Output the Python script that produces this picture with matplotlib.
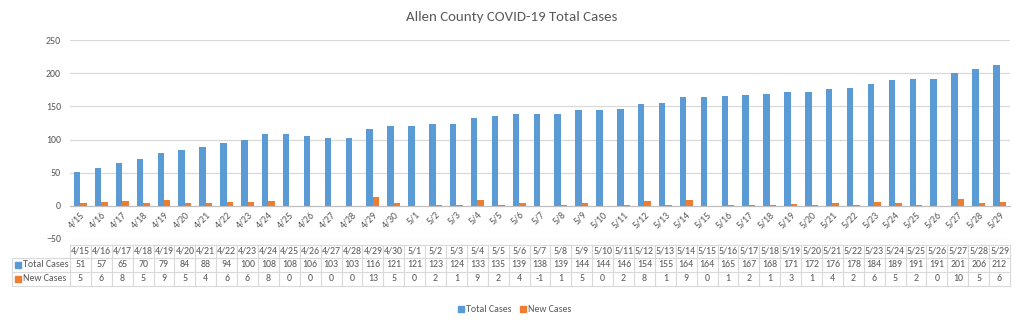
import matplotlib
matplotlib.use("Agg")
import matplotlib.pyplot as plt
from matplotlib.transforms import blended_transform_factory
from matplotlib.patches import Rectangle

plt.rcParams['font.family'] = ['Carlito', 'Lato', 'DejaVu Sans']

dates = ["4/15", "4/16", "4/17", "4/18", "4/19", "4/20", "4/21", "4/22", "4/23", "4/24",
         "4/25", "4/26", "4/27", "4/28", "4/29", "4/30", "5/1", "5/2", "5/3", "5/4",
         "5/5", "5/6", "5/7", "5/8", "5/9", "5/10", "5/11", "5/12", "5/13", "5/14",
         "5/15", "5/16", "5/17", "5/18", "5/19", "5/20", "5/21", "5/22", "5/23", "5/24",
         "5/25", "5/26", "5/27", "5/28", "5/29"]
total_cases = [51, 57, 65, 70, 79, 84, 88, 94, 100, 108,
               108, 106, 103, 103, 116, 121, 121, 123, 124, 133,
               135, 139, 138, 139, 144, 144, 146, 154, 155, 164,
               164, 165, 167, 168, 171, 172, 176, 178, 184, 189,
               191, 191, 201, 206, 212]
new_cases = [5, 6, 8, 5, 9, 5, 4, 6, 6, 8,
             0, 0, 0, 0, 13, 5, 0, 2, 1, 9,
             2, 4, -1, 1, 5, 0, 2, 8, 1, 9,
             0, 1, 2, 1, 3, 1, 4, 2, 6, 5,
             2, 0, 10, 5, 6]
y_ticks = [-50, 0, 50, 100, 150, 200, 250]

BLUE = "#5B9BD5"
ORANGE = "#ED7D31"
TXT = "#595959"
GRID = "#D9D9D9"
FS = 7.1

W, H = 1024, 325
fig = plt.figure(figsize=(W / 100, H / 100), dpi=100)
ax = fig.add_axes([70 / W, 1 - 239 / H, 940 / W, 199 / H])

n = len(dates)
x = list(range(n))
bw = 0.31
ax.bar([i - bw / 2 for i in x], total_cases, width=bw, color=BLUE, zorder=3)
ax.bar([i + bw / 2 for i in x], new_cases, width=bw, color=ORANGE, zorder=3)

ax.set_xlim(-0.5, n - 0.5)
ax.set_ylim(-50, 250)
ax.set_yticks(y_ticks)
ax.tick_params(axis='y', length=0, labelsize=FS, labelcolor=TXT, pad=6.5)
ax.grid(axis='y', color=GRID, linewidth=0.9, zorder=0)
for s in ['left', 'right', 'top']:
    ax.spines[s].set_visible(False)
ax.spines['bottom'].set_position(('data', 0))
ax.spines['bottom'].set_color("#BFBFBF")
ax.spines['bottom'].set_zorder(4)
ax.set_xticks(x)
ax.set_xticklabels(dates, rotation=45, ha='right', va='top', rotation_mode='anchor')
ax.tick_params(axis='x', length=0, labelsize=FS, labelcolor=TXT, pad=3)

fig.text(0.5, 1 - 17 / H, "Allen County COVID-19 Total Cases", ha='center', va='center',
         fontsize=10.7, color="#595959")

# data table under the plot
tr = blended_transform_factory(ax.transData, fig.transFigure)
row_edges = [1 - 244.5 / H, 1 - 257.5 / H, 1 - 271.5 / H, 1 - 285.5 / H]
lw = 0.8
for yy in row_edges:
    ax.plot([-0.5, n - 0.5], [yy, yy], transform=tr, color=GRID, lw=lw, clip_on=False)
for i in range(n + 1):
    ax.plot([i - 0.5, i - 0.5], [row_edges[0], row_edges[-1]], transform=tr,
            color=GRID, lw=lw, clip_on=False)
# label column
for yy in row_edges[1:]:
    fig.add_artist(plt.Line2D([12 / W, 70 / W], [yy, yy], color=GRID, lw=lw))
fig.add_artist(plt.Line2D([12 / W, 12 / W], [row_edges[1], row_edges[3]], color=GRID, lw=lw))

rows = [("Total Cases", BLUE, total_cases), ("New Cases", ORANGE, new_cases)]
hy = (row_edges[0] + row_edges[1]) / 2
for i, d in enumerate(dates):
    ax.text(i, hy, d, transform=tr, ha='center', va='center', fontsize=FS, color=TXT, clip_on=False)
for r, (name, col, vals) in enumerate(rows):
    cy = (row_edges[r + 1] + row_edges[r + 2]) / 2
    fig.add_artist(Rectangle((15 / W, cy - 3 / H), 6 / W, 6 / H, color=col))
    fig.text(23 / W, cy, name, ha='left', va='center', fontsize=FS, color=TXT)
    for i, v in enumerate(vals):
        ax.text(i, cy, str(v), transform=tr, ha='center', va='center', fontsize=FS,
                color=TXT, clip_on=False)

# legend
ly = 1 - 309 / H
fig.add_artist(Rectangle((458 / W, ly - 3 / H), 6 / W, 6 / H, color=BLUE))
fig.text(466 / W, ly, "Total Cases", ha='left', va='center', fontsize=FS, color=TXT)
fig.add_artist(Rectangle((520 / W, ly - 3 / H), 6 / W, 6 / H, color=ORANGE))
fig.text(528 / W, ly, "New Cases", ha='left', va='center', fontsize=FS, color=TXT)

fig.savefig("out.png", dpi=100)
